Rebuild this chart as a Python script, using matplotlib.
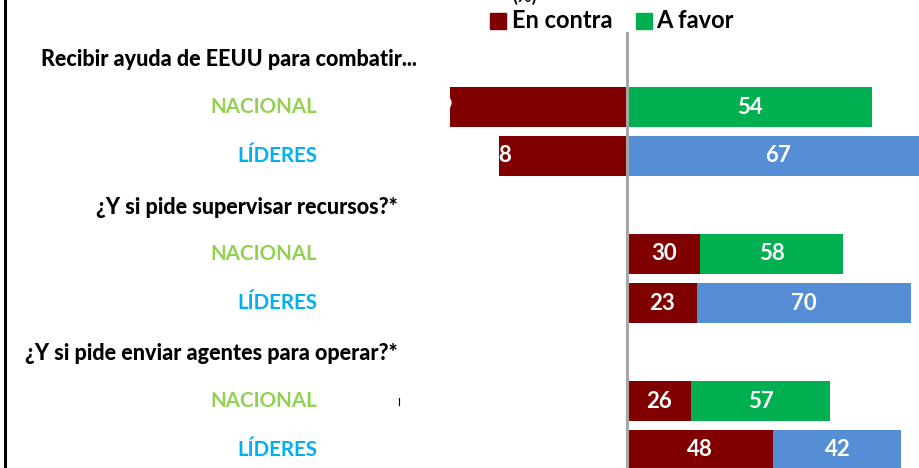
import matplotlib.pyplot as plt
from matplotlib.lines import Line2D
from matplotlib.patches import Rectangle

plt.rcParams['font.family'] = ['Lato', 'DejaVu Sans']

preguntas = ["Recibir ayuda de EEUU para combatir...",
             "¿Y si pide supervisar recursos?*",
             "¿Y si pide enviar agentes para operar?*"]
grupos = ["NACIONAL", "LÍDERES"]
en_contra = [[39, 38], [30, 23], [26, 48]]
a_favor = [[54, 67], [58, 70], [57, 42]]

# layout in pixels of the 920x468 picture
W, H = 920, 468
x_cero = 627          # where 0 sits
slot = 49             # vertical step between rows
y_primero = 60
# the source chart does not use one scale for all rows (px per point)
escala = [[4.54, 4.5], [2.45, 3.05], [2.45, 3.05]]
contra_izq = [True, False, False]      # first block: 'en contra' goes left
borde_izq = [[440, 499], [627, 627], [627, 627]]
x_pregunta = [417, 398, 398]
x_grupo = 317

col_contra = "#800000"
col_favor = {"NACIONAL": "#00b050", "LÍDERES": "#558ed5"}
col_grupo = {"NACIONAL": "#92d050", "LÍDERES": "#00b0f0"}


def fx(px):
    return px / W


def fy(py):
    return 1 - py / H


fig = plt.figure(figsize=(9.2, 4.68), dpi=100)

for i, pregunta in enumerate(preguntas):
    y_p = y_primero + slot * 3 * i
    fig.text(fx(x_pregunta[i]), fy(y_p), pregunta, ha='right', va='center',
             fontsize=15.5, fontweight='black', color='black')

    for j, grupo in enumerate(grupos):
        yc = y_primero - 2 + slot * (3 * i + 1 + j)
        fig.text(fx(x_grupo), fy(yc), grupo, ha='right', va='center',
                 fontsize=14.8, fontweight='bold', color=col_grupo[grupo])

        L = borde_izq[i][j]
        s = escala[i][j]
        ax = fig.add_axes([fx(L), fy(yc + slot / 2), fx(W - L), slot / H])
        ax.set_xlim((L - x_cero) / s, (W - x_cero) / s)
        ax.set_ylim(-0.5, 0.5)
        ax.axis('off')

        c = en_contra[i][j]
        f = a_favor[i][j]
        if contra_izq[i]:
            ax.barh(0, -c, height=0.8, color=col_contra)
            ax.barh(0, f, height=0.8, color=col_favor[grupo])
            # label sits at the left edge, partly off the bar
            x_c = ax.get_xlim()[0]
            x_f = f / 2
        else:
            ax.barh(0, c, height=0.8, color=col_contra)
            ax.barh(0, f, left=c, height=0.8, color=col_favor[grupo])
            x_c = c / 2
            x_f = c + f / 2
        ax.text(x_c, 0, str(c), ha='center', va='center', color='white',
                fontsize=16, fontweight='bold', clip_on=False)
        ax.text(x_f, 0, str(f), ha='center', va='center', color='white',
                fontsize=16, fontweight='bold', clip_on=False)

# legend
fig.text(fx(525), fy(-4), "(%)", ha='center', va='center', fontsize=13, fontweight='bold')
fig.add_artist(Rectangle((fx(490), fy(29)), 16 / W, 16 / H, transform=fig.transFigure,
                         color=col_contra))
fig.text(fx(512), fy(21), "En contra", ha='left', va='center', fontsize=17, fontweight='bold')
fig.add_artist(Rectangle((fx(636), fy(29)), 16 / W, 16 / H, transform=fig.transFigure,
                         color="#00b050"))
fig.text(fx(656), fy(21), "A favor", ha='left', va='center', fontsize=17, fontweight='bold')

# centre line and left border
fig.add_artist(Line2D([fx(x_cero)] * 2, [fy(33), 0], transform=fig.transFigure,
                      color='#a6a6a6', lw=2.2, zorder=5))
fig.add_artist(Line2D([fx(4.5)] * 2, [1, 0], transform=fig.transFigure,
                      color='black', lw=2.2))
fig.add_artist(Line2D([fx(399)] * 2, [fy(398), fy(405)], transform=fig.transFigure,
                      color='black', lw=0.8))

fig.savefig('out.png', dpi=100)
